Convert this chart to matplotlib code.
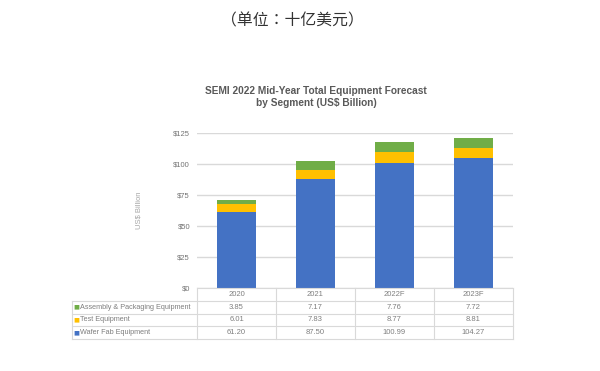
import matplotlib.pyplot as plt
from matplotlib.lines import Line2D
from matplotlib.transforms import blended_transform_factory

years = ["2020", "2021", "2022F", "2023F"]
assembly = [3.85, 7.17, 7.76, 7.72]
test = [6.01, 7.83, 8.77, 8.81]
wafer = [61.20, 87.50, 100.99, 104.27]
series_names = ["Assembly & Packaging Equipment", "Test Equipment", "Wafer Fab Equipment"]
yticks = [0, 25, 50, 75, 100, 125]

BLUE = "#4472C4"
YELLOW = "#FFC000"
GREEN = "#70AD47"
GRAY = "#7F7F7F"
LINE = "#D9D9D9"

plt.rcParams['font.family'] = ['Liberation Sans', 'DejaVu Sans']

W, H = 600, 371
fig = plt.figure(figsize=(6, 3.71), dpi=100)
fig.patch.set_facecolor("white")

# plot area in pixels
left, right, top, bottom = 197, 513, 132.7, 288
ax = fig.add_axes([left / W, 1 - bottom / H, (right - left) / W, (bottom - top) / H])

x = range(len(years))
ax.bar(x, wafer, width=0.5, color=BLUE, zorder=3)
base = [w for w in wafer]
ax.bar(x, test, width=0.5, bottom=base, color=YELLOW, zorder=3)
base = [w + t for w, t in zip(wafer, test)]
ax.bar(x, assembly, width=0.5, bottom=base, color=GREEN, zorder=3)

ax.set_xlim(-0.5, len(years) - 0.5)
ax.set_ylim(0, 125)
ax.set_yticks(yticks)
ax.set_yticklabels([f"${v}" for v in yticks], fontsize=5.5, color="#737373")
ax.set_xticks([])
ax.tick_params(axis='y', length=0, pad=5)
ax.grid(axis='y', color=LINE, linewidth=1, zorder=0)
for s in ax.spines.values():
    s.set_visible(False)
ax.set_ylabel("US$ Billion", fontsize=5.5, color="#A6A6A6", labelpad=22)


def fy(py):
    return 1 - py / H


def hline(x0, x1, py):
    fig.add_artist(Line2D([x0 / W, x1 / W], [fy(py), fy(py)], color=LINE, lw=0.8))


def vline(px, y0, y1):
    fig.add_artist(Line2D([px / W, px / W], [fy(y0), fy(y1)], color=LINE, lw=0.8))


# data table below the plot
tbl_left = 72
row_tops = [288, 301, 313.5, 326, 339]
col_w = (right - left) / len(years)

hline(left, right, row_tops[0])
for py in row_tops[1:]:
    hline(tbl_left, right, py)
for i in range(len(years) + 1):
    vline(left + i * col_w, row_tops[0], row_tops[-1])
vline(tbl_left, row_tops[1], row_tops[-1])

trans = blended_transform_factory(ax.transData, fig.transFigure)
rows = [years] + [[f"{v:.2f}" for v in s] for s in (assembly, test, wafer)]
for r, vals in enumerate(rows):
    yc = (row_tops[r] + row_tops[r + 1]) / 2
    for i, v in enumerate(vals):
        ax.text(i, fy(yc), v, transform=trans, ha='center', va='center',
                fontsize=5.5, color=GRAY, clip_on=False)

for r, (name, col) in enumerate(zip(series_names, [GREEN, YELLOW, BLUE])):
    yc = (row_tops[r + 1] + row_tops[r + 2]) / 2
    fig.text(76.5 / W, fy(yc), "■", color=col, fontsize=4.5,
             ha='center', va='center', family='DejaVu Sans')
    fig.text(80.5 / W, fy(yc), name, color=GRAY, fontsize=5.2,
             ha='left', va='center')

fig.text(316 / W, fy(97), "SEMI 2022 Mid-Year Total Equipment Forecast\nby Segment (US$ Billion)",
         ha='center', va='center', fontsize=7.3, fontweight='bold', color="#595959",
         linespacing=1.25)

fig.text(292 / W, fy(21), "（单位：十亿美元）", ha='center', va='center',
         fontsize=11.4, color="#333333", family=['Noto Sans CJK TC', 'DejaVu Sans'])

fig.savefig("out.png", dpi=100)
